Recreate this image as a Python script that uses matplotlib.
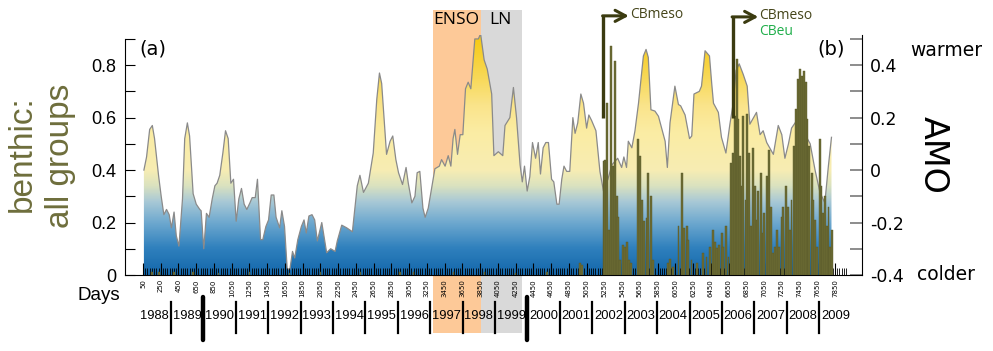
"""Benthic abundance (all groups) against the AMO index, 1988-2009."""

import numpy as np
import matplotlib

matplotlib.use("Agg")
import matplotlib.pyplot as plt
from matplotlib.colors import LinearSegmentedColormap
from matplotlib.patches import Rectangle
from matplotlib.transforms import blended_transform_factory


# AMO index (right axis): outline of the gradient area
amo_days = [
    60, 90, 125, 155, 180, 225, 255, 285, 315, 345, 370, 400, 425, 455, 495, 520, 550, 575,
    615, 650, 690, 705, 735, 765, 795, 830, 860, 885, 915, 950, 980, 1010, 1040, 1070, 1100,
    1130, 1160, 1190, 1220, 1255, 1280, 1315, 1340, 1375, 1400, 1435, 1465, 1495, 1525, 1550,
    1590, 1615, 1645, 1675, 1705, 1735, 1760, 1795, 1835, 1865, 1890, 1920, 1955, 1985, 2015,
    2065, 2120, 2165, 2215, 2240, 2290, 2345, 2410, 2465, 2495, 2535, 2590, 2645, 2685, 2715,
    2740, 2795, 2835, 2865, 2900, 2930, 2975, 3015, 3040, 3080, 3115, 3140, 3170, 3205, 3230,
    3265, 3340, 3390, 3415, 3455, 3490, 3520, 3545, 3565, 3595, 3625, 3655, 3685, 3715, 3745,
    3790, 3830, 3855, 3895, 3930, 3980, 4005, 4055, 4105, 4130, 4185, 4225, 4260, 4300, 4325,
    4350, 4380, 4410, 4440, 4475, 4505, 4530, 4560, 4590, 4620, 4655, 4680, 4715, 4740, 4770,
    4795, 4825, 4860, 4895, 4920, 4950, 4985, 5015, 5050, 5075, 5105, 5155, 5200, 5240, 5290,
    5335, 5400, 5445, 5470, 5500, 5520, 5560, 5595, 5635, 5690, 5720, 5745, 5775, 5820, 5860,
    5895, 5935, 5960, 5990, 6045, 6085, 6110, 6160, 6210, 6235, 6260, 6320, 6345, 6385, 6435,
    6460, 6480, 6535, 6570, 6620, 6665, 6700, 6735, 6770, 6815, 6860, 6890, 6965, 7005, 7040,
    7080, 7155, 7210, 7250, 7285, 7325, 7360, 7420, 7490, 7570, 7625, 7680, 7735, 7775, 7810,
]
amo_values = [
    0.00, 0.05, 0.155, 0.17, 0.12, -0.02, -0.10, -0.17, -0.15, -0.17, -0.22, -0.16, -0.25,
    -0.29, -0.11, 0.12, 0.18, 0.13, -0.09, -0.13, -0.15, -0.155, -0.30, -0.165, -0.18, -0.11,
    -0.06, -0.05, -0.02, 0.065, 0.15, 0.12, -0.05, -0.035, -0.195, -0.11, -0.07, -0.13, -0.15,
    -0.125, -0.105, -0.105, -0.035, -0.265, -0.265, -0.215, -0.19, -0.095, -0.095, -0.18,
    -0.22, -0.155, -0.215, -0.375, -0.38, -0.31, -0.335, -0.265, -0.215, -0.19, -0.24, -0.175,
    -0.17, -0.19, -0.27, -0.20, -0.315, -0.30, -0.31, -0.27, -0.21, -0.22, -0.235, -0.06,
    -0.02, -0.085, -0.05, 0.065, 0.27, 0.37, 0.33, 0.06, 0.11, 0.13, 0.04, -0.01, -0.055,
    0.01, -0.05, -0.125, -0.10, -0.01, -0.005, -0.145, -0.18, -0.145, 0.005, 0.015, 0.04,
    0.015, 0.055, 0.015, 0.12, 0.155, 0.06, 0.135, 0.135, 0.31, 0.335, 0.31, 0.50, 0.50, 0.52,
    0.42, 0.385, 0.29, 0.055, 0.07, 0.055, 0.17, 0.20, 0.315, 0.20, 0.02, -0.045, 0.015,
    -0.08, -0.025, 0.105, 0.045, 0.105, -0.015, 0.085, 0.105, 0.105, -0.035, -0.045, -0.13,
    -0.13, -0.035, 0.015, -0.005, -0.005, 0.20, 0.14, 0.18, 0.29, 0.255, 0.16, 0.21, 0.19,
    0.15, -0.005, -0.08, -0.035, 0.02, 0.045, 0.01, 0.05, 0.01, 0.11, 0.085, 0.15, 0.255,
    0.435, 0.46, 0.43, 0.23, 0.225, 0.205, 0.16, 0.11, 0.01, 0.18, 0.32, 0.25, 0.245, 0.21,
    0.12, 0.13, 0.29, 0.30, 0.32, 0.455, 0.435, 0.33, 0.255, 0.22, 0.125, 0.065, 0.175, 0.25,
    0.38, 0.405, 0.365, 0.32, 0.175, 0.22, 0.135, 0.15, 0.105, 0.06, 0.17, 0.135, 0.045, 0.10,
    0.16, 0.19, 0.15, 0.10, 0.00, -0.085, -0.125, 0.015, 0.125,
]

# benthic abundance, all groups (left axis): olive bars
benthic_days = [
    150, 230, 400, 610, 900, 1250, 1700, 2050, 2500, 2950, 3100, 3550, 3900, 4250, 4600,
    4975, 5001, 5240, 5257, 5276, 5302, 5325, 5351, 5370, 5389, 5407, 5426, 5463, 5483, 5509,
    5531, 5550, 5633, 5652, 5678, 5700, 5727, 5745, 5772, 5801, 5964, 5990, 6020, 6084, 6122,
    6148, 6178, 6196, 6234, 6291, 6365, 6403, 6441, 6471, 6497, 6516, 6546, 6573, 6591, 6618,
    6648, 6675, 6697, 6723, 6742, 6760, 6779, 6798, 6816, 6843, 6861, 6884, 6903, 6929, 6948,
    6967, 6985, 7012, 7035, 7053, 7080, 7106, 7125, 7154, 7173, 7199, 7222, 7249, 7267, 7297,
    7323, 7342, 7361, 7391, 7409, 7436, 7455, 7481, 7500, 7519, 7541, 7560, 7587, 7605, 7624,
    7643, 7680, 7699, 7718, 7737, 7756, 7778, 7793, 7812,
]
benthic_values = [
    0.012, 0.010, 0.012, 0.010, 0.008, 0.010, 0.008, 0.010, 0.012, 0.010, 0.012, 0.010, 0.010,
    0.008, 0.010, 0.045, 0.040, 0.434, 0.44, 0.657, 0.172, 0.874, 0.415, 0.817, 0.30, 0.223,
    0.057, 0.115, 0.108, 0.127, 0.057, 0.045, 0.517, 0.453, 0.287, 0.204, 0.217, 0.389, 0.30,
    0.057, 0.045, 0.06, 0.032, 0.185, 0.389, 0.178, 0.185, 0.134, 0.057, 0.045, 0.083, 0.07,
    0.108, 0.172, 0.127, 0.102, 0.115, 0.160, 0.108, 0.185, 0.07, 0.428, 0.466, 0.606, 0.823,
    0.593, 0.453, 0.338, 0.606, 0.287, 0.612, 0.466, 0.185, 0.485, 0.338, 0.21, 0.319, 0.389,
    0.16, 0.236, 0.376, 0.478, 0.261, 0.083, 0.108, 0.172, 0.108, 0.223, 0.261, 0.338, 0.261,
    0.172, 0.287, 0.491, 0.632, 0.746, 0.785, 0.759, 0.778, 0.734, 0.593, 0.491, 0.389, 0.287,
    0.21, 0.108, 0.517, 0.338, 0.236, 0.30, 0.185, 0.261, 0.108, 0.172,
]

day_ticks = list(range(50, 7851, 200))
years = list(range(1988, 2010))
thick_years = [1990, 2000]
enso_period = (3320, 3860)
la_nina_period = (3860, 4320)
cb_meso_days = [5240, 6700]

OLIVE = "#6b6b33"
LABEL_OLIVE = "#6e6e3c"
ARROW = "#3b3b10"
gradient_stops = [
    (-0.40, "#1467ab"), (-0.30, "#2f80bd"), (-0.20, "#6fa9cf"), (-0.12, "#a9c9d6"),
    (-0.06, "#dbe2bf"), (0.00, "#f7edb3"), (0.15, "#fbeca3"), (0.25, "#fae48a"),
    (0.35, "#f8d95a"), (0.52, "#f6c80e"),
]

plt.rcParams["font.family"] = ["DejaVu Sans"]

W, H = 993, 351
TOP = 35  # pixel row of the top of both axes
fig = plt.figure(figsize=(W / 100, H / 100), dpi=100)
ax = fig.add_axes([125 / W, (H - 275) / H, (862 - 125) / W, (275 - TOP) / H])
ax2 = ax.twinx()
ax.set_zorder(ax2.get_zorder() + 1)
ax.patch.set_visible(False)

xmin, xmax = -153, 8154
lo, hi = -0.4, 0.515


def frac(py):
    """Pixel row -> axes fraction (axes span rows TOP..275)."""
    return (275 - py) / (275 - TOP)


# ENSO / La Nina shading reaching up above the axes and down over the years
tr2 = blended_transform_factory(ax2.transData, ax2.transAxes)
for (d0, d1), col in [(enso_period, "#fdc998"), (la_nina_period, "#d9d9d9")]:
    ax2.add_patch(Rectangle((d0, frac(333)), d1 - d0, frac(10) - frac(333), transform=tr2,
                            facecolor=col, edgecolor="none", clip_on=False, zorder=0))

# AMO gradient area
cmap = LinearSegmentedColormap.from_list(
    "amo", [((v - lo) / (0.52 - lo), c) for v, c in gradient_stops])
grad = np.linspace(lo, hi, 400).reshape(-1, 1)
im = ax2.imshow(grad, extent=[xmin, xmax, lo, hi], origin="lower", aspect="auto",
                cmap=cmap, vmin=lo, vmax=0.52, zorder=1, interpolation="bilinear")
poly = ax2.fill_between(amo_days, amo_values, lo, facecolor="none", edgecolor="none")
im.set_clip_path(poly.get_paths()[0], transform=ax2.transData)
ax2.plot(amo_days, amo_values, color="#8a8a8a", lw=0.9, zorder=2)
ax2.set_xlim(xmin, xmax)
ax2.set_ylim(lo, hi)

# benthic bars
ax.bar(benthic_days, benthic_values, width=19, color=OLIVE, edgecolor="#58582a",
       linewidth=0.3, zorder=3)
ax.set_xlim(xmin, xmax)
ax.set_ylim(0, hi - lo)

# CBmeso arrows
for d, top in zip(cb_meso_days, [0.988, 0.984]):
    ax.plot([d, d], [0.60, top], color=ARROW, lw=2.4, clip_on=False,
            solid_capstyle="butt", zorder=6)
    ax.annotate("", xy=(d + 285, top), xytext=(d - 10, top), annotation_clip=False,
                arrowprops=dict(arrowstyle="->,head_length=0.75,head_width=0.4",
                                color=ARROW, lw=2.2, shrinkA=0, shrinkB=0), zorder=6)
    ax.text(d + 300, top + 0.005, "CBmeso", family="Open Sans", fontsize=10,
            color="#45451a", ha="left", va="center", clip_on=False)
ax.text(cb_meso_days[1] + 300, 0.93, "CBeu", family="Open Sans", fontsize=10,
        color="#1fae4a", ha="left", va="center", clip_on=False)

# axes styling
for a in (ax, ax2):
    a.spines["top"].set_visible(False)
ax.spines["right"].set_visible(False)
ax.spines["left"].set_bounds(0, 0.9)
ax2.spines["left"].set_visible(False)
ax2.spines["bottom"].set_visible(False)

ax.set_xticks(day_ticks)
ax.set_xticklabels([str(d) for d in day_ticks], rotation=90, fontsize=5)
ax.set_xticks(np.arange(50, 8000, 25), minor=True)
ax.tick_params(axis="x", which="major", direction="in", length=9, width=0.8, pad=3)
ax.tick_params(axis="x", which="minor", direction="in", length=5, width=0.6)

ax.set_yticks([0, 0.2, 0.4, 0.6, 0.8])
ax.set_yticklabels(["0", "0.2", "0.4", "0.6", "0.8"], family="Liberation Sans", fontsize=13)
ax.set_yticks([0.1, 0.3, 0.5, 0.7, 0.9], minor=True)
ax.tick_params(axis="y", which="both", direction="in", length=7, width=0.8, pad=6)

ax2.set_yticks([-0.4, -0.2, 0, 0.2, 0.4])
ax2.set_yticklabels(["-0.4", "-0.2", "0", "0.2", "0.4"], fontsize=12.5)
ax2.set_yticks([-0.3, -0.1, 0.1, 0.3, 0.5], minor=True)
ax2.tick_params(axis="y", which="both", direction="in", length=8.5, width=1.4,
                color="#8c8c8c", pad=6)

ax.text(0.02, frac(49), "(a)", transform=ax.transAxes, fontsize=14, va="center")
ax.text(0.939, frac(49), "(b)", transform=ax.transAxes, fontsize=14, va="center")

# year strip below the day axis
tr = blended_transform_factory(ax.transData, ax.transAxes)
base = np.datetime64("1988-01-01")
starts = [int((np.datetime64(f"{y}-01-01") - base).astype(int)) for y in years + [2010]]
for y, s0, s1 in zip(years, starts[:-1], starts[1:]):
    ax.text((s0 + s1) / 2, frac(316), str(y), transform=tr, family="Liberation Sans",
            fontsize=9.3, ha="center", va="center", clip_on=False, zorder=7)
for y, s in zip(years[1:], starts[1:-1]):
    if y in thick_years:
        ax.plot([s, s], [frac(297), frac(340)], transform=tr, color="black", lw=3.2,
                clip_on=False, solid_capstyle="round", zorder=7)
    else:
        ax.plot([s, s], [frac(302), frac(333)], transform=tr, color="black", lw=1.6,
                clip_on=False, zorder=7)

# outside labels
fig.text(22 / W, 1 - 154 / H, "benthic:", rotation=90, family="Liberation Sans",
         fontsize=24, color=LABEL_OLIVE, ha="center", va="center")
fig.text(60 / W, 1 - 156 / H, "all groups", rotation=90, family="Liberation Sans",
         fontsize=24, color=LABEL_OLIVE, ha="center", va="center")
fig.text(933 / W, 1 - 155 / H, "AMO", rotation=-90, fontsize=24, ha="center", va="center")
fig.text(946 / W, 1 - 50 / H, "warmer", fontsize=13.5, ha="center", va="center")
fig.text(946 / W, 1 - 275 / H, "colder", fontsize=13.5, ha="center", va="center")
fig.text(120 / W, 1 - 295 / H, "Days", family="Liberation Sans", fontsize=13.5,
         ha="right", va="center")
fig.text(433 / W, 1 - 20 / H, "ENSO", family="Open Sans", fontsize=12.5, ha="left",
         va="center")
fig.text(489 / W, 1 - 20 / H, "LN", family="Open Sans", fontsize=12.5, ha="left",
         va="center")

fig.savefig("out.png", dpi=100)
